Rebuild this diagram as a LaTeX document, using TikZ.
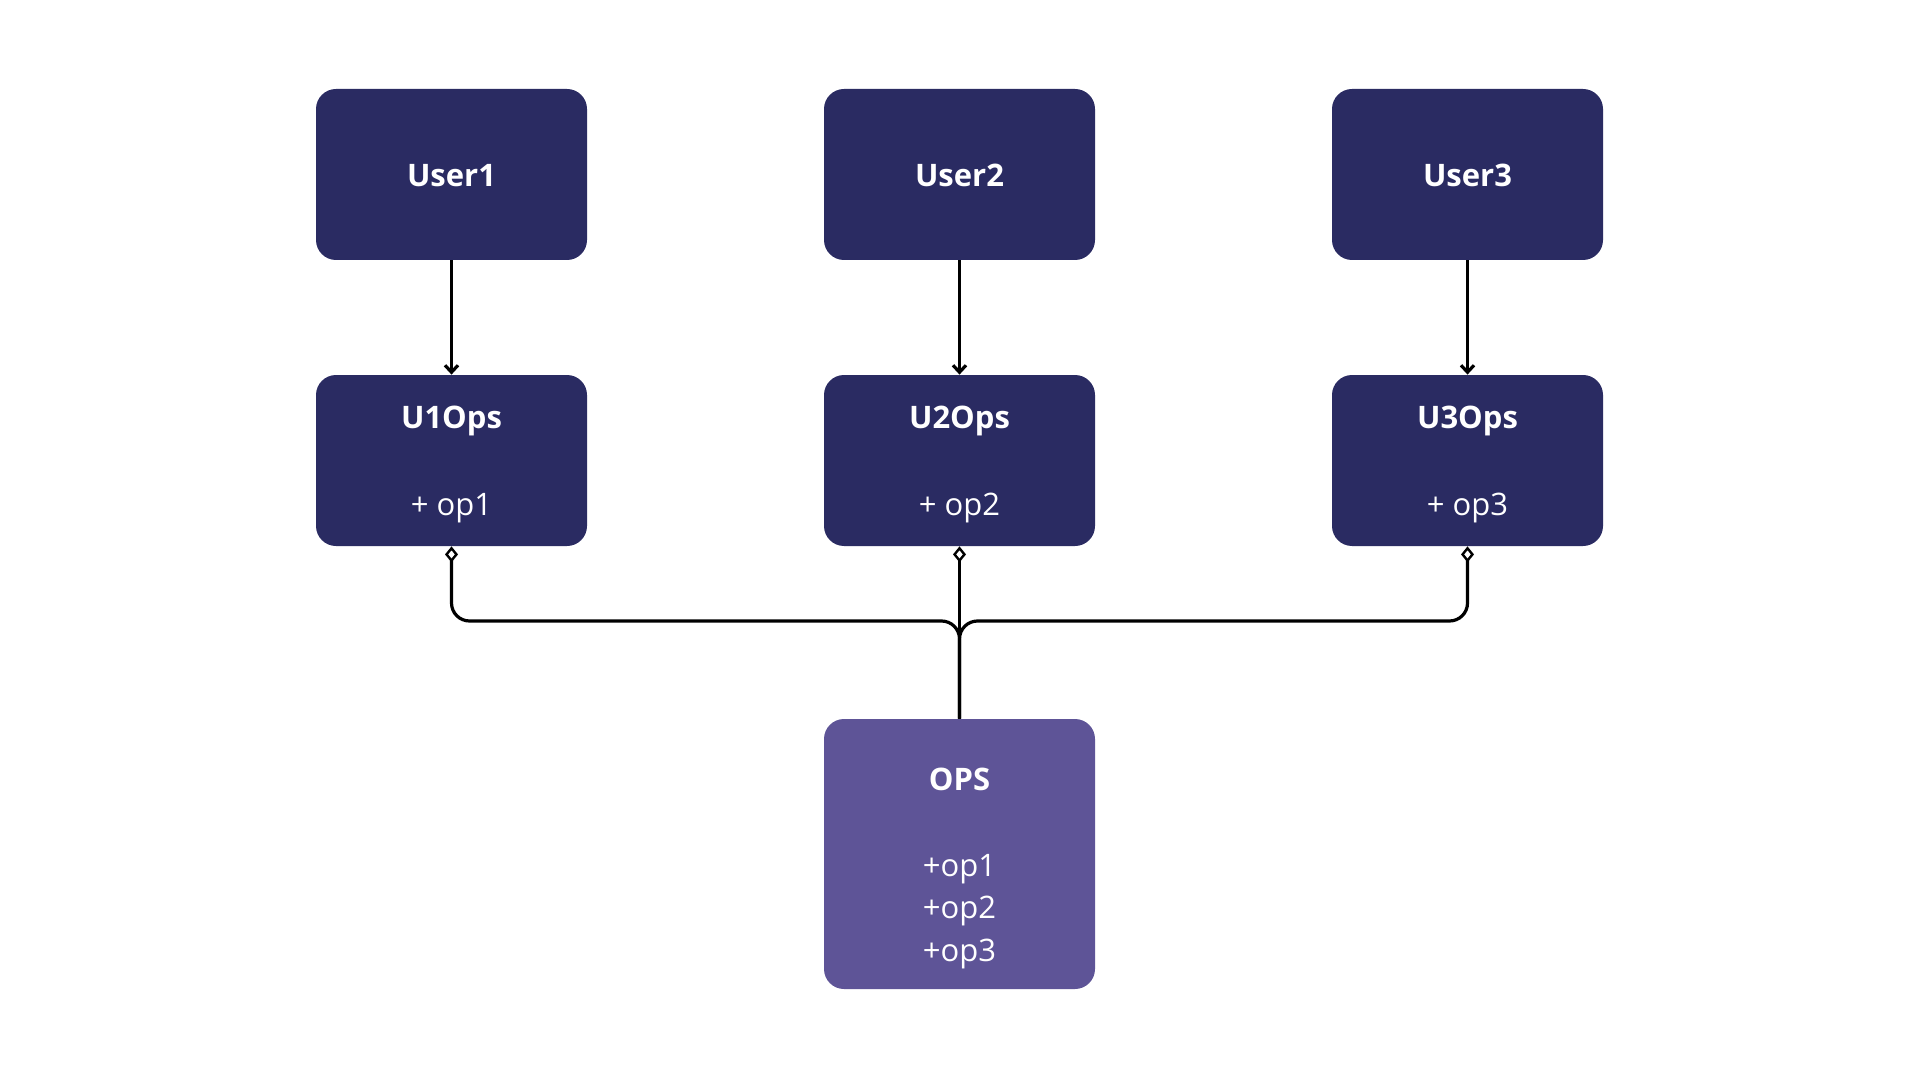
\documentclass[tikz,border=0pt]{standalone}
\usepackage{fontspec}
\setmainfont{Open Sans}
\usetikzlibrary{arrows.meta}
\definecolor{navy}{RGB}{42,43,98}
\definecolor{lilac}{RGB}{94,84,151}
\tikzset{
  box/.style={rounded corners=10pt, minimum width=135.5pt, inner sep=0pt, draw=none},
  navybox/.style={box, fill=navy, minimum height=85.5pt},
  opsbox/.style={box, fill=lilac, minimum height=135pt},
  ttl/.style={anchor=base, inner sep=0pt, text=white, font=\fontsize{15.5}{18}\selectfont\bfseries},
  itm/.style={anchor=base, inner sep=0pt, text=white, font=\fontsize{15.5}{18}\selectfont},
  conn/.style={line width=1.6pt, black},
  arr/.style={conn, -{Straight Barb[length=3.5pt,width=6.5pt]}},
  agg/.style={conn, {Diamond[open,length=8pt,width=6.5pt,line width=1.2pt]}-, rounded corners=9pt}
}
\begin{document}
\begin{tikzpicture}[x=0.5pt,y=-0.5pt]
\useasboundingbox (0,0) rectangle (1920,1080);
% top boxes
\node[navybox] (u1) at (451.5,174.5) {};
\node[navybox] (u2) at (959.5,174.5) {};
\node[navybox] (u3) at (1467.5,174.5) {};
\node[ttl] (u1t) at (451.5,187) {User1};
\node[ttl] (u2t) at (959.5,187) {User2};
\node[ttl] (u3t) at (1467.5,187) {User3};
% ops boxes
\node[navybox] (o1) at (451.5,460.5) {};
\node[navybox] (o2) at (959.5,460.5) {};
\node[navybox] (o3) at (1467.5,460.5) {};
\node[ttl] (o1t) at (451.5,428) {U1Ops};
\node[ttl] (o2t) at (959.5,428) {U2Ops};
\node[ttl] (o3t) at (1467.5,428) {U3Ops};
\node[itm] (o1i) at (451.5,515) {+ op1};
\node[itm] (o2i) at (959.5,515) {+ op2};
\node[itm] (o3i) at (1467.5,515) {+ op3};
% OPS
\node[opsbox] (ops) at (959.5,854) {};
\node[ttl] (opst) at (959.5,790) {OPS};
\node[itm] (opa) at (959.5,876) {+op1};
\node[itm] (opb) at (959.5,918.5) {+op2};
\node[itm] (opc) at (959.5,961) {+op3};
% connectors
\draw[arr] (u1.south) -- (o1.north);
\draw[arr] (u2.south) -- (o2.north);
\draw[arr] (u3.south) -- (o3.north);
\coordinate (j) at (959.5,621);
\draw[agg] (o1.south) |- (j) -- (ops.north);
\draw[agg] (o3.south) |- (j) -- (ops.north);
\draw[agg] (o2.south) -- (ops.north);
\end{tikzpicture}
\end{document}
